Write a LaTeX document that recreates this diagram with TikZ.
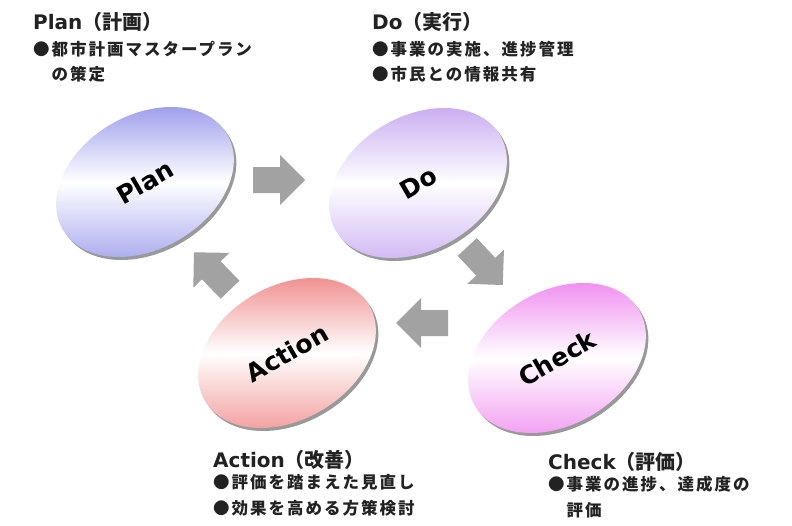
\documentclass[tikz,border=0pt]{standalone}
\usepackage{fontspec}
\setmainfont{DejaVu Sans}
\newfontfamily\jp{Noto Sans CJK JP}
\newfontfamily\jpsp{Noto Sans CJK JP}[LetterSpace=12]
\usetikzlibrary{shapes.geometric}
\definecolor{planc}{HTML}{9494EA}
\definecolor{doc}{HTML}{C4A4F0}
\definecolor{checkc}{HTML}{EE84EE}
\definecolor{actc}{HTML}{EE8484}
\definecolor{arrc}{HTML}{A2A2A2}
\definecolor{txt}{HTML}{222222}
\tikzset{
  oval/.style={ellipse, minimum width=190pt, minimum height=134pt, inner sep=0pt, rotate=30,
    font=\bfseries\fontsize{25}{25}\selectfont},
  shadowfill/.style={fill=gray!80},
  title/.style={anchor=west, inner sep=0pt, text=txt, font=\bfseries\fontsize{20}{20}\selectfont},
  item/.style={anchor=west, inner sep=0pt, text=txt, font=\jpsp\bfseries\fontsize{16.5}{16.5}\selectfont},
}
\newcommand\blockarr[3]{%
  \fill[arrc, shift={(#1,#2)}, rotate=#3] (-26,-13) -- (1,-13) -- (1,-25) -- (26,0) -- (1,25) -- (1,13) -- (-26,13) -- cycle;}
\newcommand\ovalshadow[2]{%
  \fill[shadowfill, shift={(#1,#2)}, rotate=30] (0,0) ellipse [x radius=95pt, y radius=67pt];}
\begin{document}
\begin{tikzpicture}[x=1pt, y=-1pt]
\useasboundingbox[fill=white] (0,0) rectangle (792,525);
% shadows
\ovalshadow{147.5}{185}
\ovalshadow{420.5}{186}
\ovalshadow{559.5}{361}
\ovalshadow{289.5}{356}
% ellipses
\node[oval, top color=planc, bottom color=planc!85, middle color=white] (plan) at (145,182) {Plan};
\node[oval, top color=doc, bottom color=doc!85, middle color=white] (do) at (418,183) {Do};
\node[oval, top color=checkc, bottom color=checkc!85, middle color=white] (check) at (557,358) {Check};
\node[oval, top color=actc, bottom color=actc!85, middle color=white] (act) at (287,353) {Action};
% block arrows
\blockarr{279}{180}{0}
\blockarr{485}{266}{-47}
\blockarr{422}{323}{180}
\blockarr{212}{271}{134}
% texts
\node[title] (pt) at (33,22) {Plan{\jp（計画）}};
\node[item] (p1) at (33,49) {●都市計画マスタープラン};
\node[item] (p2) at (33,74) {　の策定};
\node[title] (dt) at (372,22) {Do{\jp（実行）}};
\node[item] (d1) at (372,49) {●事業の実施、進捗管理};
\node[item] (d2) at (372,74) {●市民との情報共有};
\node[title] (at) at (213,460) {Action{\jp（改善）}};
\node[item] (a1) at (213,482) {●評価を踏まえた見直し};
\node[item] (a2) at (213,508) {●効果を高める方策検討};
\node[title] (ct) at (548,462) {Check{\jp（評価）}};
\node[item] (c1) at (548,484) {●事業の進捗、達成度の};
\node[item] (c2) at (548,510) {　評価};
\end{tikzpicture}
\end{document}
